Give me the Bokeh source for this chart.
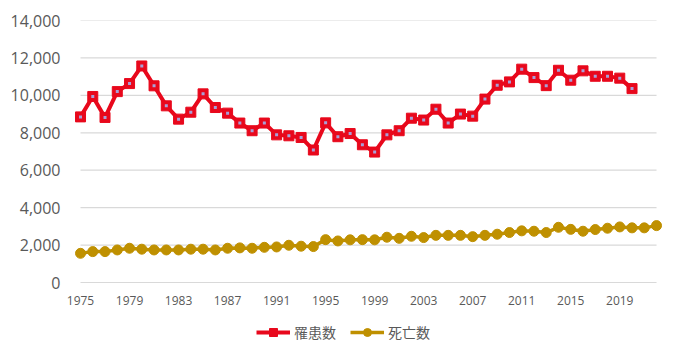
from bokeh.plotting import figure
from bokeh.models import Range1d, FixedTicker, NumeralTickFormatter, Legend, LegendItem
from bokeh.embed import file_html
from bokeh.resources import INLINE

years_inc = list(range(1975, 2021))
incidence = [8850, 9940, 8820, 10200, 10630, 11570, 10510, 9440, 8730, 9100,
             10080, 9350, 9050, 8520, 8110, 8520, 7890, 7840, 7750, 7080,
             8530, 7790, 7960, 7360, 6970, 7890, 8110, 8780, 8680, 9260,
             8520, 9000, 8890, 9800, 10540, 10720, 11400, 10950, 10520, 11340,
             10810, 11310, 11020, 11020, 10920, 10360]
years_dea = list(range(1975, 2023))
deaths = [1560, 1650, 1650, 1740, 1830, 1780, 1740, 1740, 1740, 1780,
          1780, 1740, 1830, 1850, 1830, 1880, 1900, 1990, 1940, 1920,
          2290, 2220, 2280, 2290, 2280, 2420, 2360, 2470, 2400, 2520,
          2520, 2520, 2450, 2520, 2580, 2670, 2760, 2740, 2670, 2950,
          2840, 2740, 2830, 2900, 2970, 2920, 2920, 3040]
x_ticks = list(range(1975, 2020, 4))
y_ticks = list(range(0, 14001, 2000))
label_inc = "罹患数"
label_dea = "死亡数"

RED = "#e8081c"
GOLD = "#bf9000"
GRID = "#d9d9d9"
TXT = "#595959"

x0, x1 = years_dea[0], years_dea[-1]
p = figure(width=690, height=356, output_backend="svg", toolbar_location=None,
           x_range=Range1d(x0 - 1.47, x1 + 1.14), y_range=Range1d(-3954, 14000),
           min_border_left=62, min_border_right=20, min_border_top=20, min_border_bottom=0)
p.outline_line_color = None
p.background_fill_color = "white"
p.xgrid.grid_line_color = None
p.ygrid.grid_line_color = None

# horizontal gridlines spanning the category extent
p.segment(x0=[x0] * len(y_ticks), x1=[x1] * len(y_ticks), y0=y_ticks, y1=y_ticks,
          line_color=GRID, line_width=1.2)

r1 = p.line(years_inc, incidence, line_color=RED, line_width=4)
r1m = p.scatter(years_inc, incidence, marker="square", size=10, fill_color=RED, line_color=RED)
r1d = p.scatter(years_inc, incidence, marker="square", size=3, fill_color="#a8a0d8", line_color=None)
r2 = p.line(years_dea, deaths, line_color=GOLD, line_width=3.5)
r2m = p.scatter(years_dea, deaths, marker="circle", size=10, fill_color=GOLD, line_color=GOLD)

p.xaxis.ticker = FixedTicker(ticks=x_ticks)
p.xaxis.fixed_location = 0
p.yaxis.ticker = FixedTicker(ticks=y_ticks)
p.yaxis.formatter = NumeralTickFormatter(format="0,0")

for ax in (p.xaxis[0], p.yaxis[0]):
    ax.axis_line_color = None
    ax.major_tick_line_color = None
    ax.minor_tick_line_color = None
    ax.major_label_text_color = TXT
    ax.major_label_text_font = "Open Sans"
p.yaxis.major_tick_out = 0
p.yaxis.major_label_text_font_size = "16px"
p.yaxis.major_label_standoff = 2
p.xaxis.major_label_text_font_size = "12px"
p.xaxis.major_label_standoff = 7

legend = Legend(items=[LegendItem(label=label_inc, renderers=[r1, r1m]),
                       LegendItem(label=label_dea, renderers=[r2, r2m])],
                orientation="horizontal", location=(194, 14))
legend.label_text_font = "Noto Sans CJK JP"
legend.label_text_font_size = "14px"
legend.label_text_color = TXT
legend.border_line_color = None
legend.background_fill_alpha = 0
legend.glyph_width = 34
legend.spacing = 14
legend.label_standoff = 4
legend.margin = 0
legend.padding = 4
p.add_layout(legend, "center")

open("out.html", "w").write(file_html(p, INLINE))
